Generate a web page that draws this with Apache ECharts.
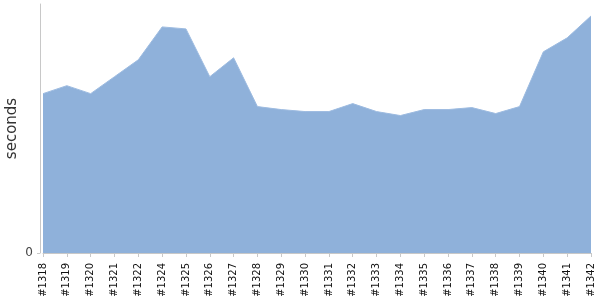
<!doctype html>
<html lang="en">
<head>
    <meta charset="UTF-8">
    <title>seconds per build</title>
    <script src="https://cdn.jsdelivr.net/npm/echarts@6/dist/echarts.min.js"></script>
    <style>
        html, body { margin: 0; padding: 0; background: #fff; }
        #main { width: 600px; height: 300px; }
    </style>
</head>
<body>
<div id="main"></div>
<script type="text/javascript">
    // build numbers (#1323 is missing in the source)
    var builds = ['#1318','#1319','#1320','#1321','#1322','#1324','#1325','#1326','#1327','#1328','#1329','#1330',
                  '#1331','#1332','#1333','#1334','#1335','#1336','#1337','#1338','#1339','#1340','#1341','#1342'];
    // duration
    var seconds = [160,168,160,177,194,227,225,177,196,147,144,142,
                   142,150,142,138,144,144,146,140,147,202,216,238];
    var yTicks = [0];

    var myChart = echarts.init(document.getElementById('main'));

    var option = {
        animation: false,
        grid: {
            left: 43,
            right: 9,
            top: 4,
            bottom: 47,
            outerBoundsMode: 'none'
        },
        xAxis: {
            type: 'category',
            boundaryGap: false,
            data: builds,
            offset: 3,
            axisLine: { lineStyle: { color: '#c8c8c8', width: 1 } },
            axisTick: { show: true, alignWithLabel: true, length: 4, lineStyle: { color: '#c8c8c8' } },
            axisLabel: {
                rotate: 90,
                interval: 0,
                fontSize: 10,
                fontFamily: 'DejaVu Sans',
                color: '#111',
                margin: 7
            },
            splitLine: { show: false }
        },
        yAxis: {
            type: 'value',
            min: 0,
            max: 250,
            offset: 3,
            name: 'seconds',
            nameLocation: 'middle',
            nameGap: 20,
            nameMoveOverlap: false,
            nameTextStyle: { fontSize: 15, fontFamily: 'DejaVu Sans', color: '#333' },
            axisLine: { show: true, lineStyle: { color: '#c8c8c8' } },
            axisTick: { show: true, length: 3, customValues: yTicks, lineStyle: { color: '#c8c8c8' } },
            axisLabel: {
                customValues: yTicks,
                fontSize: 12,
                fontFamily: 'DejaVu Sans',
                color: '#444',
                margin: 7
            },
            splitLine: { show: false }
        },
        series: [
            {
                name: 'seconds',
                type: 'line',
                data: seconds,
                symbol: 'none',
                lineStyle: { width: 1, color: '#9dbbe0' },
                areaStyle: { color: '#8fb1da', opacity: 1 }
            }
        ]
    };
    myChart.setOption(option);
</script>
</body>
</html>
